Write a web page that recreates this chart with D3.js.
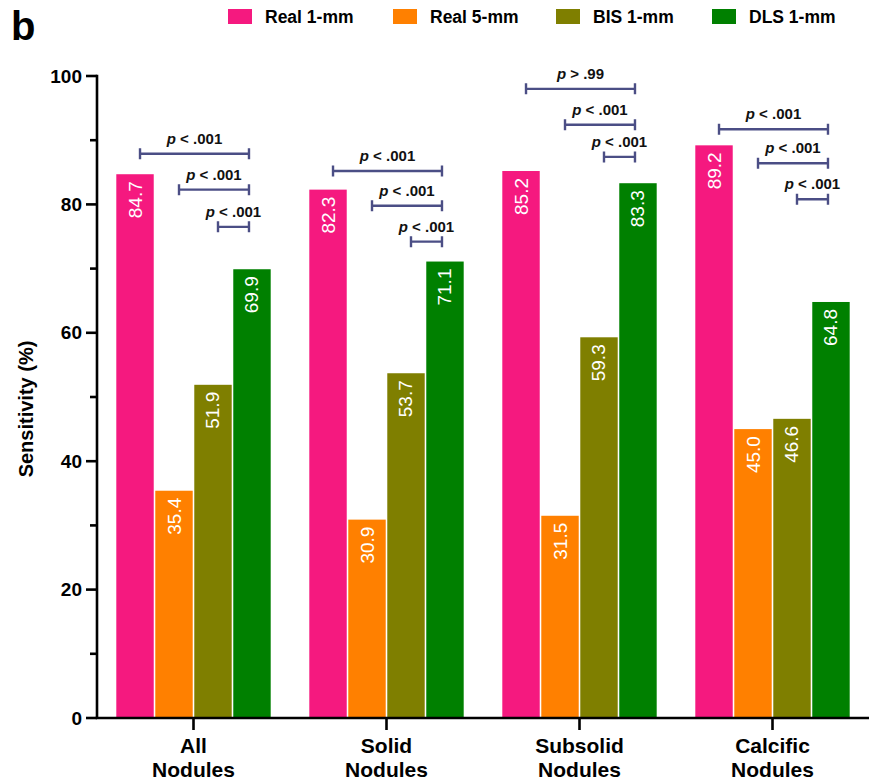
<!DOCTYPE html>
<html>
<head>
<meta charset="utf-8">
<script src="https://cdn.jsdelivr.net/npm/d3@7"></script>
<style>
  html, body { margin: 0; padding: 0; background: #fff; }
  svg { display: block; font-family: Arial, "Liberation Sans", Helvetica, sans-serif; }
</style>
</head>
<body>
<svg id="chart" width="872" height="781"></svg>
<script>
// Nodule categories (two-line labels)
const categories = ["All Nodules", "Solid Nodules", "Subsolid Nodules", "Calcific Nodules"];
const categoryLines = [["All", "Nodules"], ["Solid", "Nodules"], ["Subsolid", "Nodules"], ["Calcific", "Nodules"]];

// Series
const seriesNames = ["Real 1-mm", "Real 5-mm", "BIS 1-mm", "DLS 1-mm"];
const seriesColors = ["#f5197f", "#ff8000", "#7f7f00", "#008000"];

// Sensitivity (%) per series, one value per category
const real1mm = [84.7, 82.3, 85.2, 89.2];
const real5mm = [35.4, 30.9, 31.5, 45.0];
const bis1mm  = [51.9, 53.7, 59.3, 46.6];
const dls1mm  = [69.9, 71.1, 83.3, 64.8];
const seriesValues = [real1mm, real5mm, bis1mm, dls1mm];

// Y axis ticks
const yMajorTicks = [0, 20, 40, 60, 80, 100];
const yMinorTicks = [10, 30, 50, 70, 90];

// Pairwise comparisons against DLS 1-mm: [from series, to series, label]
const comparisons = [
  [[0, 3, "< .001"], [1, 3, "< .001"], [2, 3, "< .001"]],
  [[0, 3, "< .001"], [1, 3, "< .001"], [2, 3, "< .001"]],
  [[0, 3, "> .99"],  [1, 3, "< .001"], [2, 3, "< .001"]],
  [[0, 3, "< .001"], [1, 3, "< .001"], [2, 3, "< .001"]]
];
// Bracket heights in axis units (top, middle, bottom) for each category
const bracketLevels = [
  [87.9, 82.3, 76.5],
  [85.2, 79.8, 74.2],
  [98.0, 92.4, 87.4],
  [91.7, 86.4, 80.8]
];

const svg = d3.select("#chart");
const plotLeft = 97, plotRight = 869, plotTop = 76, plotBottom = 718;

const x0 = d3.scaleBand().domain(categories).range([plotLeft, plotRight])
  .paddingInner(0.2).paddingOuter(0.1);
const x1 = d3.scaleBand().domain(d3.range(seriesNames.length))
  .range([0, x0.bandwidth()]).paddingInner(0.04);
const y = d3.scaleLinear().domain([0, 100]).range([plotBottom, plotTop]);

// Bars
const groups = svg.append("g").selectAll("g").data(categories).join("g")
  .attr("transform", d => `translate(${x0(d)},0)`);

groups.each(function(cat, ci) {
  const g = d3.select(this);
  const rows = seriesValues.map((vals, si) => ({ si, v: vals[ci] }));
  g.selectAll("rect").data(rows).join("rect")
    .attr("x", d => x1(d.si))
    .attr("y", d => y(d.v))
    .attr("width", x1.bandwidth())
    .attr("height", d => y(0) - y(d.v))
    .attr("fill", d => seriesColors[d.si]);
  g.selectAll("text.val").data(rows).join("text")
    .attr("class", "val")
    .attr("transform", d => `translate(${x1(d.si) + x1.bandwidth() / 2},${y(d.v) + 7}) rotate(-90)`)
    .attr("text-anchor", "end")
    .attr("dominant-baseline", "central")
    .attr("fill", "#fff")
    .attr("font-size", 19)
    .text(d => d.v.toFixed(1));
});

// Significance brackets
const bracketColor = "#4b4e85";
const bg = svg.append("g");
comparisons.forEach((comps, ci) => {
  comps.forEach((c, k) => {
    const xa = x0(categories[ci]) + x1(c[0]) + x1.bandwidth() / 2 + 5;
    const xb = x0(categories[ci]) + x1(c[1]) + x1.bandwidth() / 2 - 3;
    const yy = y(bracketLevels[ci][k]);
    const path = d3.path();
    path.moveTo(xa, yy); path.lineTo(xb, yy);
    path.moveTo(xa, yy - 5.5); path.lineTo(xa, yy + 5.5);
    path.moveTo(xb, yy - 5.5); path.lineTo(xb, yy + 5.5);
    bg.append("path").attr("d", path.toString())
      .attr("stroke", bracketColor).attr("stroke-width", 2.4).attr("fill", "none");
    const t = bg.append("text")
      .attr("x", (xa + xb) / 2).attr("y", yy - 10)
      .attr("text-anchor", "middle")
      .attr("font-size", 15).attr("font-weight", "bold").attr("fill", "#111");
    t.append("tspan").attr("font-style", "italic").text("p");
    t.append("tspan").text(" " + c[2]);
  });
});

// Y axis
const yAxis = svg.append("g").attr("transform", `translate(${plotLeft},0)`);
yAxis.append("line").attr("x1", 0).attr("x2", 0).attr("y1", y(100) - 1.3).attr("y2", y(0))
  .attr("stroke", "#000").attr("stroke-width", 2.6);
yAxis.selectAll("line.maj").data(yMajorTicks).join("line").attr("class", "maj")
  .attr("x1", -11).attr("x2", 0).attr("y1", d => y(d)).attr("y2", d => y(d))
  .attr("stroke", "#000").attr("stroke-width", 2.6);
yAxis.selectAll("line.min").data(yMinorTicks).join("line").attr("class", "min")
  .attr("x1", -7).attr("x2", 0).attr("y1", d => y(d)).attr("y2", d => y(d))
  .attr("stroke", "#000").attr("stroke-width", 2.6);
yAxis.selectAll("text").data(yMajorTicks).join("text")
  .attr("x", -15).attr("y", d => y(d)).attr("dy", "0.35em")
  .attr("text-anchor", "end").attr("font-size", 19).attr("font-weight", "bold")
  .text(d => d);

svg.append("text")
  .attr("transform", `translate(33,${(plotTop + plotBottom) / 2 + 12}) rotate(-90)`)
  .attr("text-anchor", "middle").attr("font-size", 20).attr("font-weight", "bold")
  .text("Sensitivity (%)");

// X axis
const xAxis = svg.append("g").attr("transform", `translate(0,${plotBottom})`);
xAxis.append("line").attr("x1", plotLeft - 1.3).attr("x2", plotRight).attr("y1", 0).attr("y2", 0)
  .attr("stroke", "#000").attr("stroke-width", 2.6);
categories.forEach((cat, ci) => {
  const cx = x0(cat) + x0.bandwidth() / 2;
  xAxis.append("line").attr("x1", cx).attr("x2", cx).attr("y1", 0).attr("y2", 12)
    .attr("stroke", "#000").attr("stroke-width", 2.6);
  categoryLines[ci].forEach((line, li) => {
    xAxis.append("text").attr("x", cx).attr("y", 35 + li * 24)
      .attr("text-anchor", "middle").attr("font-size", 21).attr("font-weight", "bold")
      .text(line);
  });
});

// Legend
const legendX = [228, 393, 556, 712];
const legend = svg.append("g");
seriesNames.forEach((name, i) => {
  legend.append("rect").attr("x", legendX[i]).attr("y", 9).attr("width", 24).attr("height", 15)
    .attr("fill", seriesColors[i]);
  legend.append("text").attr("x", legendX[i] + 37).attr("y", 23)
    .attr("font-size", 17.5).attr("font-weight", "bold").text(name);
});

// Panel letter
svg.append("text").attr("x", 11).attr("y", 40)
  .attr("font-size", 40).attr("font-weight", "bold").text("b");
</script>
</body>
</html>
